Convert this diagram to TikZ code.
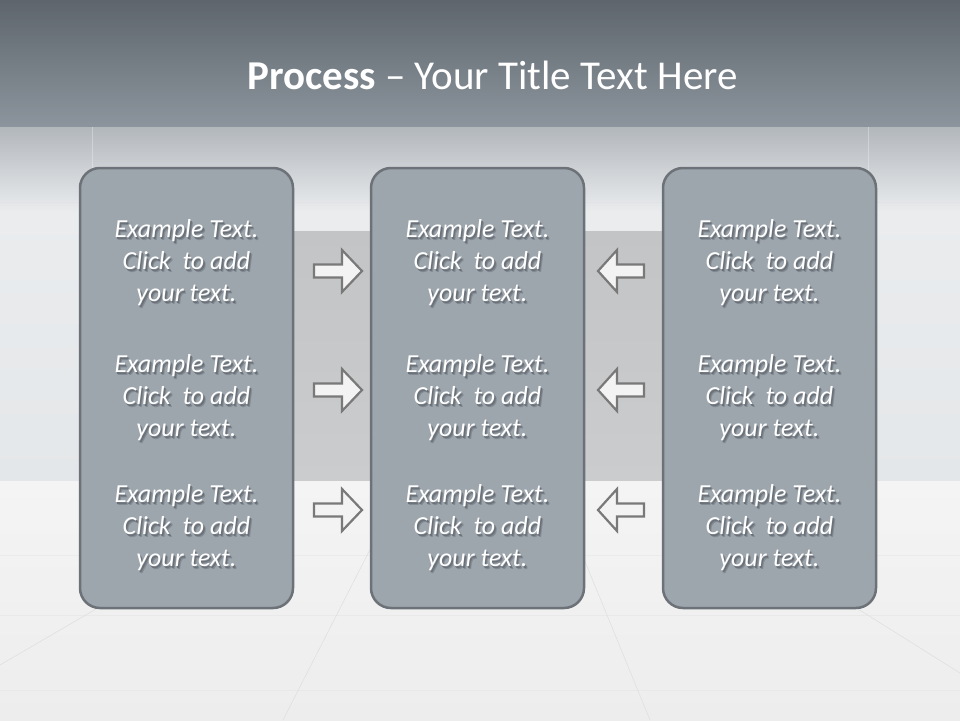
\documentclass[tikz,border=0pt]{standalone}
\usepackage{fontspec}
\setmainfont{Carlito}
\definecolor{bandtop}{HTML}{5E656D}
\definecolor{bandbot}{HTML}{8C959D}
\definecolor{wallA}{HTML}{B2B7BC}
\definecolor{wallB}{HTML}{EAECEE}
\definecolor{wallC}{HTML}{E4E7E9}
\definecolor{recessA}{HTML}{C3C4C6}
\definecolor{recessB}{HTML}{CBCCCE}
\definecolor{floorA}{HTML}{F4F4F4}
\definecolor{floorB}{HTML}{EDEDED}
\definecolor{floorline}{HTML}{DCDEDF}
\definecolor{boxfill}{HTML}{9DA5AD}
\definecolor{boxline}{HTML}{6D7278}
\definecolor{arrowfill}{HTML}{F3F3F3}
\definecolor{arrowline}{HTML}{797979}
\definecolor{txtshadowA}{HTML}{838A92}
\definecolor{txtshadowB}{HTML}{6A7179}
\newcommand\shline[1]{\leavevmode
  \rlap{\hspace{2.4pt}\raisebox{-2.8pt}{\textcolor{txtshadowA}{#1}}}%
  \rlap{\hspace{1.4pt}\raisebox{-1.6pt}{\textcolor{txtshadowB}{#1}}}#1}
\newcommand\bodytext{\shline{Example Text.}\\\shline{Click\ \ to add}\\\shline{your text.}}
\begin{document}
\begin{tikzpicture}[x=1pt,y=-1pt,
  colbox/.style={draw=boxline,line width=2.5pt,fill=boxfill,rounded corners=20pt,
    minimum width=213pt,minimum height=440pt,inner sep=0pt},
  bodylbl/.style={text=white,align=center,inner sep=0pt,
    font=\fontsize{26}{32}\selectfont\itshape},
  blockarrow/.style={draw=arrowline,fill=arrowfill,line width=2.2pt,line join=miter},
  floorstroke/.style={draw=floorline,line width=0.5pt}]
\useasboundingbox (0,0) rectangle (960,720);
% background
\shade[top color=bandtop,bottom color=bandbot] (0,0) rectangle (960,127);
\shade[top color=wallA,bottom color=wallB] (0,127) rectangle (960,212);
\shade[top color=wallB,bottom color=wallC] (0,212) rectangle (960,481);
\draw[white,line width=0.8pt,opacity=0.3] (92,127) -- (92,200);
\draw[white,line width=0.8pt,opacity=0.3] (868,127) -- (868,200);
\draw[floorline,line width=0.6pt,opacity=0.4] (0,202) -- (960,202);
\shade[top color=recessA,bottom color=recessB] (285,231) rectangle (675,481);
\shade[top color=floorA,bottom color=floorB] (0,481) rectangle (960,720);
\draw[floorstroke] (405,481) -- (283,720);
\draw[floorstroke] (552,481) -- (650,720);
\draw[floorstroke] (780,560) -- (960,673);
\draw[floorstroke] (180,560) -- (0,665);
\draw[floorstroke,opacity=0.35] (0,555) -- (960,555);
\draw[floorstroke,opacity=0.35] (0,615) -- (960,615);
\draw[floorstroke,opacity=0.35] (0,690) -- (960,690);
% title
\node[text=white,font=\fontsize{41}{48}\selectfont,inner sep=0pt] (title) at (492.5,75)
  {\textbf{Process} -- Your Title Text Here};
% columns
\node[colbox] (colL) at (186.5,388) {};
\node[colbox] (colM) at (477.5,388) {};
\node[colbox] (colR) at (769.5,388) {};
% texts
\foreach \cx/\nm in {186.5/L,477.5/M,769.5/R}{
  \foreach \cy/\r in {264/1,399/2,529/3}{
    \node[bodylbl] (t\nm\r) at (\cx,\cy) {\bodytext};
  }
}
% arrows
\foreach \cy/\r in {271/1,390/2,510/3}{
  \coordinate (ar\r) at (338,\cy);
  \coordinate (al\r) at (621,\cy);
  \draw[blockarrow,shift={(ar\r)}] (-24,-6.5) -- (4,-6.5) -- (4,-21) -- (24,0)
     -- (4,21) -- (4,6.5) -- (-24,6.5) -- cycle;
  \draw[blockarrow,shift={(al\r)}] (23,-6.5) -- (-4,-6.5) -- (-4,-21) -- (-23,0)
     -- (-4,21) -- (-4,6.5) -- (23,6.5) -- cycle;
}
\end{tikzpicture}
\end{document}
